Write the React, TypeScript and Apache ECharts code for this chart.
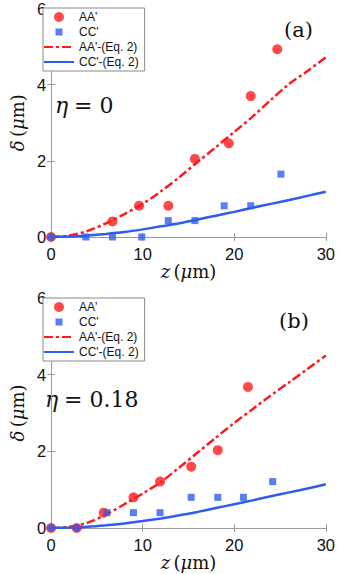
import React, { useEffect, useRef } from "react";
import * as echarts from "echarts";

// Panel (a), eta = 0
const aAAz = [0, 3.4, 6.7, 9.6, 12.8, 15.7, 19.4, 21.8, 24.7];
const aAAd = [0, -0.02, 0.41, 0.82, 0.82, 2.05, 2.46, 3.7, 4.93];
const aCCz = [0, 3.8, 6.7, 9.9, 12.8, 15.7, 18.9, 21.8, 25.1];
const aCCd = [0, 0, 0, 0, 0.43, 0.43, 0.82, 0.82, 1.65];
// Panel (b), eta = 0.18
const bAAz = [0, 2.8, 5.75, 9.0, 11.9, 15.3, 18.2, 21.5];
const bAAd = [0, 0, 0.4, 0.8, 1.21, 1.6, 2.03, 3.68];
const bCCz = [0, 2.8, 6.1, 9.0, 11.9, 15.3, 18.2, 21.0, 24.2];
const bCCd = [0, 0, 0.4, 0.4, 0.4, 0.8, 0.8, 0.8, 1.21];

// Eq. 2 model curves
const modelZ = [0, 2, 4, 6, 8, 10, 12, 14, 16, 18, 20, 22, 24, 26, 28, 30];
const aAAfit = [0, 0.04, 0.16, 0.36, 0.6, 0.87, 1.2, 1.57, 1.97, 2.36, 2.76, 3.16, 3.6, 4.02, 4.36, 4.72];
const aCCfit = [0, 0.01, 0.04, 0.08, 0.13, 0.2, 0.28, 0.36, 0.46, 0.56, 0.66, 0.77, 0.87, 0.97, 1.08, 1.19];
const bAAfit = [0, 0.03, 0.14, 0.35, 0.62, 0.9, 1.2, 1.58, 1.97, 2.36, 2.74, 3.1, 3.46, 3.8, 4.15, 4.5];
const bCCfit = [0, 0.01, 0.03, 0.07, 0.12, 0.18, 0.25, 0.33, 0.42, 0.52, 0.62, 0.72, 0.83, 0.93, 1.03, 1.14];

const xTicks = [0, 10, 20, 30];
const yTicks = [0, 2, 4, 6];

const RED = "#ff1a1a";
const BLUE = "#2f5cf0";
const AXIS = "#9a9a9a";
const SANS = "'Liberation Sans', Arial, sans-serif";
const SERIF = "'DejaVu Serif', 'Liberation Serif', serif";

const pairs = (x: number[], y: number[]) => x.map((v, i) => [v, y[i]]);

function buildOption() {
  const grids = [
    { left: 43, top: 8, width: 283, height: 229 },
    { left: 43, top: 298, width: 283, height: 230 },
  ];
  const xAxes: any[] = [];
  const yAxes: any[] = [];
  const rich = {
    i: { fontFamily: SERIF, fontStyle: "italic", fontSize: 18, color: "#111" },
    n: { fontFamily: SERIF, fontSize: 18, color: "#111" },
  };
  grids.forEach((_, g) => {
    const common = {
      gridIndex: g,
      type: "value",
      min: xTicks[0],
      max: xTicks[xTicks.length - 1],
      interval: 10,
      axisLine: { show: true, lineStyle: { color: AXIS, width: 1 } },
      axisTick: { show: true, inside: true, length: 4, lineStyle: { color: AXIS } },
      splitLine: { show: false },
    };
    xAxes.push({
      ...common,
      position: "bottom",
      axisLabel: { color: "#111", fontSize: 16.5, fontFamily: SANS, margin: 8 },
      name: "{i|z} {n|(}{i|μ}{n|m)}",
      nameLocation: "middle",
      nameGap: 23,
      nameTextStyle: { rich },
    });
    xAxes.push({ ...common, position: "top", axisLabel: { show: false } });
    const ycommon = {
      gridIndex: g,
      type: "value",
      min: yTicks[0],
      max: yTicks[yTicks.length - 1],
      interval: 2,
      axisLine: { show: true, lineStyle: { color: AXIS, width: 1 } },
      axisTick: { show: true, inside: true, length: 4, lineStyle: { color: AXIS } },
      splitLine: { show: false },
    };
    yAxes.push({
      ...ycommon,
      position: "left",
      axisLabel: { color: "#111", fontSize: 16.5, fontFamily: SANS, margin: 5 },
      name: "{i|δ} {n|(}{i|μ}{n|m)}",
      nameLocation: "middle",
      nameGap: 25,
      nameRotate: 90,
      nameTextStyle: { rich },
    });
    yAxes.push({ ...ycommon, position: "right", axisLabel: { show: false } });
  });

  const panels = [
    { aa: pairs(aAAz, aAAd), cc: pairs(aCCz, aCCd), aaFit: pairs(modelZ, aAAfit), ccFit: pairs(modelZ, aCCfit), round: 1 },
    { aa: pairs(bAAz, bAAd), cc: pairs(bCCz, bCCd), aaFit: pairs(modelZ, bAAfit), ccFit: pairs(modelZ, bCCfit), round: 2 },
  ];
  const series: any[] = [];
  panels.forEach((p, g) => {
    const xi = g * 2;
    const yi = g * 2;
    series.push({
      name: "AA'",
      type: "scatter",
      xAxisIndex: xi,
      yAxisIndex: yi,
      symbol: "circle",
      symbolSize: 10,
      itemStyle: { color: RED },
      data: p.aa,
      z: 3,
    });
    series.push({
      name: "CC'",
      type: "scatter",
      xAxisIndex: xi,
      yAxisIndex: yi,
      symbol: "rect",
      symbolSize: 7,
      itemStyle: { color: BLUE },
      data: p.cc.map((v, i) => (i < p.round ? { value: v, symbol: "circle", symbolSize: 8 } : v)),
      z: 4,
    });
    series.push({
      name: "AA'-(Eq. 2)",
      type: "line",
      xAxisIndex: xi,
      yAxisIndex: yi,
      showSymbol: false,
      symbol: "none",
      smooth: 0.3,
      lineStyle: { color: RED, width: 2.5, type: [9, 3, 3, 3] },
      itemStyle: { color: RED },
      data: p.aaFit,
      z: 2,
    });
    series.push({
      name: "CC'-(Eq. 2)",
      type: "line",
      xAxisIndex: xi,
      yAxisIndex: yi,
      showSymbol: false,
      symbol: "none",
      smooth: 0.3,
      lineStyle: { color: BLUE, width: 2.5 },
      itemStyle: { color: BLUE },
      data: p.ccFit,
      z: 2,
    });
  });

  const legendData = [
    { name: "AA'" },
    { name: "CC'", icon: "path://M0,0Z M10,10Z M1.5,1.5H8.5V8.5H1.5Z" },
    { name: "AA'-(Eq. 2)", itemStyle: { opacity: 0 } },
    { name: "CC'-(Eq. 2)", itemStyle: { opacity: 0 } },
  ];
  const legends = [8, 298].map((top) => ({
    orient: "vertical",
    left: 43,
    top,
    data: legendData,
    itemWidth: 30,
    itemHeight: 10,
    itemGap: 3,
    padding: [3, 6, 3, 0],
    borderColor: "#8a8a8a",
    borderWidth: 1,
    backgroundColor: "#fff",
    selectedMode: false,
    textStyle: { fontSize: 12, fontFamily: SANS, color: "#111" },
  }));

  const graphic = [
    { type: "text", left: 284, top: 19, style: { text: "(a)", font: `21px ${SERIF}`, fill: "#111" } },
    { type: "text", left: 279, top: 310, style: { text: "(b)", font: `21px ${SERIF}`, fill: "#111" } },
    { type: "text", left: 55, top: 94, style: { text: "η", font: `italic 22px ${SERIF}`, fill: "#111" } },
    { type: "text", left: 74, top: 94, style: { text: "= 0", font: `22px ${SERIF}`, fill: "#111" } },
    { type: "text", left: 45, top: 388, style: { text: "η", font: `italic 22px ${SERIF}`, fill: "#111" } },
    { type: "text", left: 64, top: 388, style: { text: "= 0.18", font: `22px ${SERIF}`, fill: "#111" } },
  ];

  return {
    animation: false,
    backgroundColor: "#fff",
    grid: grids.map((g) => ({ ...g, show: false })),
    xAxis: xAxes,
    yAxis: yAxes,
    legend: legends,
    series,
    graphic,
  };
}

export default function App() {
  const ref = useRef<HTMLDivElement>(null);
  useEffect(() => {
    document.body.style.margin = "0";
    const chart = echarts.init(ref.current!, null, { renderer: "svg" });
    chart.setOption(buildOption() as any);
    return () => chart.dispose();
  }, []);
  return <div ref={ref} style={{ width: 338, height: 574 }} />;
}
